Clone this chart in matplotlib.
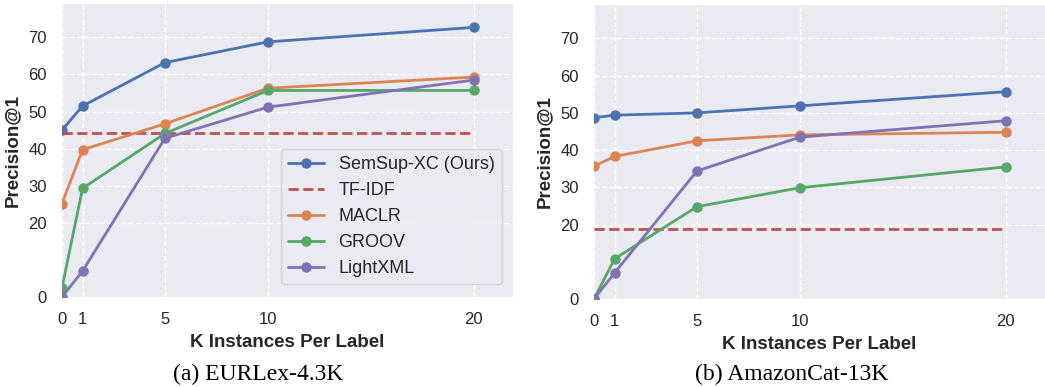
import matplotlib
matplotlib.use("Agg")
import matplotlib.pyplot as plt
import seaborn as sns

sns.set_theme(style="darkgrid", rc={"grid.linestyle": "--"})
plt.rcParams['font.family'] = ['Liberation Sans', 'DejaVu Sans']

k_values = [0, 1, 5, 10, 20]
x_ticks = [0, 1, 5, 10, 20]
y_ticks = [0, 20, 30, 40, 50, 60, 70]

# EURLex-4.3K
eur_semsup = [45.0, 51.5, 63.2, 68.8, 72.7]
eur_tfidf = 44.1
eur_maclr = [25.2, 39.7, 46.7, 56.3, 59.3]
eur_groov = [2.5, 29.3, 44.1, 55.7, 55.7]
eur_lightxml = [0.0, 7.0, 42.8, 51.2, 58.5]

# AmazonCat-13K
amz_semsup = [48.7, 49.4, 50.0, 51.9, 55.7]
amz_tfidf = 18.8
amz_maclr = [35.7, 38.3, 42.5, 44.1, 44.8]
amz_groov = [0.0, 10.8, 24.8, 29.9, 35.5]
amz_lightxml = [0.0, 7.0, 34.4, 43.5, 47.9]

captions = ["(a) EURLex-4.3K", "(b) AmazonCat-13K"]

colors = {"semsup": "#4C72B0", "tfidf": "#C44E52", "maclr": "#DD8452",
          "groov": "#55A868", "lightxml": "#8172B3"}

fig = plt.figure(figsize=(10.45, 3.87), dpi=100)
ax1 = fig.add_axes([0.0593, 0.2326, 0.4316, 0.757])
ax2 = fig.add_axes([0.5684, 0.2274, 0.4316, 0.7597])

datasets = [
    (ax1, eur_semsup, eur_tfidf, eur_maclr, eur_groov, eur_lightxml),
    (ax2, amz_semsup, amz_tfidf, amz_maclr, amz_groov, amz_lightxml),
]

lw = 2.0
ms = 6.5
for i, (ax, sem, tf, mac, gro, lig) in enumerate(datasets):
    ax.plot(k_values, sem, '-o', color=colors["semsup"], lw=lw, ms=ms, label="SemSup-XC (Ours)")
    ax.plot([k_values[0], k_values[-1]], [tf, tf], '--', color=colors["tfidf"], lw=lw, label="TF-IDF")
    ax.plot(k_values, mac, '-o', color=colors["maclr"], lw=lw, ms=ms, label="MACLR")
    ax.plot(k_values, gro, '-o', color=colors["groov"], lw=lw, ms=ms, label="GROOV")
    ax.plot(k_values, lig, '-o', color=colors["lightxml"], lw=lw, ms=ms, label="LightXML")
    ax.set_xlim(0, 21.9)
    ax.set_ylim(0, 79)
    ax.set_xticks(x_ticks)
    ax.set_yticks(y_ticks)
    ax.tick_params(labelsize=12, colors="#262626", pad=5)
    ax.set_xlabel("K Instances Per Label", fontsize=13.5, fontweight="bold", labelpad=4.5)
    ax.set_ylabel("Precision@1", fontsize=13.5, fontweight="bold", labelpad=5)
    for sp in ax.spines.values():
        sp.set_visible(False)

ax1.legend(loc="lower right", fontsize=13, borderaxespad=0.5, handlelength=2.0,
           bbox_to_anchor=(0.995, 0.012))

fig.text(0.247, 0.006, captions[0], fontsize=17, family="Liberation Serif",
         ha="center", va="bottom", color="black")
fig.text(0.758, 0.006, captions[1], fontsize=17, family="Liberation Serif",
         ha="center", va="bottom", color="black")

fig.savefig("out.png", dpi=100)
